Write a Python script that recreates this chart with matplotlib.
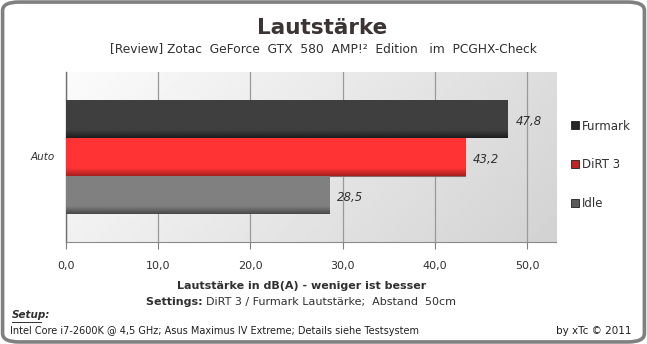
import matplotlib
matplotlib.use("Agg")
import matplotlib.pyplot as plt
import numpy as np
from matplotlib.patches import FancyBboxPatch
from matplotlib.lines import Line2D

serien = ["Furmark", "DiRT 3", "Idle"]
werte = [47.8, 43.2, 28.5]
werte_text = ["47,8", "43,2", "28,5"]
farben = ["#3f3f3f", "#ff3333", "#808080"]
farben_dunkel = ["#1e1e1e", "#a82020", "#4a4a4a"]
legende_farben = ["#262626", "#c02424", "#5a5a5a"]
kategorie = "Auto"
x_ticks = [0, 10, 20, 30, 40, 50]
x_labels = ["0,0", "10,0", "20,0", "30,0", "40,0", "50,0"]

fig = plt.figure(figsize=(6.47, 3.44), dpi=100)
fig.patch.set_facecolor("white")

# Rahmen um das ganze Bild
rahmen = FancyBboxPatch((0.004, 0.006), 0.992, 0.988, boxstyle="round,pad=0,rounding_size=0.025",
                        transform=fig.transFigure, facecolor="none", edgecolor="#808080",
                        linewidth=2.6, zorder=10)
fig.patches.append(rahmen)

ax = fig.add_axes([65.5 / 647, 1 - 242 / 344, (556 - 65.5) / 647, (242 - 72) / 344])
ax.set_xlim(0, 53.1)
ax.set_ylim(-2.25, 2.25)

# Hintergrund-Verlauf der Zeichenflaeche
gx, gy = np.meshgrid(np.linspace(0, 1, 200), np.linspace(0, 1, 50))
hell = 0.985 - 0.12 * gx - 0.04 * gy
ax.imshow(hell, cmap="gray", vmin=0, vmax=1, extent=[0, 1, 0, 1], transform=ax.transAxes,
          aspect="auto", zorder=0, origin="upper", interpolation="bilinear")

for t in x_ticks:
    ax.axvline(t, color="#9a9a9a", lw=0.9, zorder=1)

pos = [1, 0, -1]
for i in range(3):
    b = ax.barh(pos[i], werte[i], height=1.0, color=farben[i], zorder=3,
                edgecolor="#8a6a6a" if i == 1 else "none", linewidth=0.8)[0]
    # dunkler Rand unten am Balken
    verlauf = np.linspace(0, 1, 40)[:, None]
    c0 = np.array(matplotlib.colors.to_rgb(farben[i]))
    c1 = np.array(matplotlib.colors.to_rgb(farben_dunkel[i]))
    anteil = np.clip((verlauf - 0.8) / 0.2, 0, 1)
    bild = c0 * (1 - anteil[..., None]) + c1 * anteil[..., None]
    bild = np.repeat(bild, 2, axis=1)
    bb = b.get_bbox()
    im = ax.imshow(bild, extent=[bb.x0, bb.x1, bb.y0, bb.y1], aspect="auto", zorder=3.5,
                   origin="upper", interpolation="bilinear")
    im.set_clip_path(b)
    ax.text(werte[i] + 0.9, pos[i] - 0.06, werte_text[i], ha="left", va="center",
            fontsize=8.5, style="italic", color="#303030", zorder=5)

ax.set_xlim(0, 53.1)
ax.set_ylim(-2.25, 2.25)
ax.set_yticks([])
ax.set_xticks(x_ticks)
ax.set_xticklabels(x_labels, fontsize=8, color="#303030")
ax.tick_params(axis="x", length=5, color="#808080", pad=9)
for s in ["top", "right"]:
    ax.spines[s].set_visible(False)
ax.spines["bottom"].set_color("#8a8a8a")
ax.spines["left"].set_color("#707070")
ax.spines["left"].set_linewidth(1.0)

fig.text(55 / 647, 1 - 157 / 344, kategorie, ha="right", va="center", fontsize=7.5,
         style="italic", color="#303030")

# Legende
handles = [Line2D([0], [0], marker="s", linestyle="none", markersize=6,
                  markerfacecolor=legende_farben[i], markeredgecolor="#202020",
                  markeredgewidth=0.6) for i in range(3)]
fig.legend(handles, serien, loc="center left", bbox_to_anchor=(561 / 647, 1 - 165 / 344),
           frameon=False, fontsize=8.5, handlelength=0.6, handletextpad=0.3,
           labelspacing=2.2, labelcolor="#303030")

# Texte
fig.text(322 / 647, 1 - 28 / 344, "Lautstärke", ha="center", va="center", fontsize=15.5,
         fontweight="bold", color="#3c3434")
fig.text(323 / 647, 1 - 49 / 344, "[Review] Zotac  GeForce  GTX  580  AMP!²  Edition   im  PCGHX-Check",
         ha="center", va="center", fontsize=8.8, color="#303030")
fig.text(302 / 647, 1 - 286 / 344, "Lautstärke in dB(A) - weniger ist besser", ha="center",
         va="center", fontsize=8, fontweight="bold", color="#303030")
t1 = fig.text(0.5, 1 - 302 / 344, "Settings: ", ha="left", va="center", fontsize=8,
              fontweight="bold", color="#303030")
t2 = fig.text(0.5, 1 - 302 / 344, "DiRT 3 / Furmark Lautstärke;  Abstand  50cm", ha="left",
              va="center", fontsize=8, color="#303030")
fig.canvas.draw()
r = fig.canvas.get_renderer()
w1 = t1.get_window_extent(r).width
w2 = t2.get_window_extent(r).width
start = 301 - (w1 + w2) / 2
t1.set_x(start / 647)
t2.set_x((start + w1) / 647)

fig.text(12 / 647, 1 - 315.5 / 344, "Setup:", ha="left", va="center", fontsize=7.5,
         fontweight="bold", style="italic", color="#303030")
fig.add_artist(Line2D([12 / 647, 41 / 647], [1 - 321.5 / 344, 1 - 321.5 / 344], color="#303030", lw=0.7))
fig.text(10 / 647, 1 - 330.5 / 344, "Intel Core i7-2600K @ 4,5 GHz; Asus Maximus IV Extreme; Details siehe Testsystem",
         ha="left", va="center", fontsize=7, color="#202020")
fig.text(632 / 647, 1 - 330.5 / 344, "by xTc © 2011", ha="right", va="center", fontsize=7.5,
         color="#202020")

fig.savefig("out.png", dpi=100)
